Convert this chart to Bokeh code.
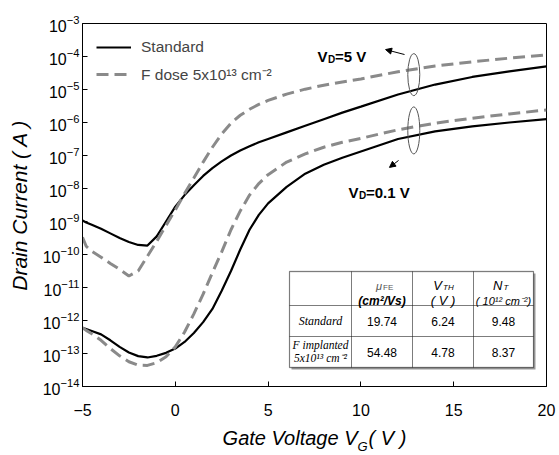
import numpy as np
from bokeh.plotting import figure
from bokeh.models import (Range1d, FixedTicker, LogTickFormatter, Label, BoxAnnotation,
                          Arrow, NormalHead, Legend, LegendItem, Title)
from bokeh.embed import file_html
from bokeh.resources import INLINE

# ---------------- data ----------------
gate_v = [-5, -4.8, -4.5, -4, -3.5, -3, -2.5, -2, -1.5, -1, -0.5, 0, 0.5, 1, 1.5, 2,
          2.5, 3, 3.5, 4, 4.5, 5, 6, 7, 8, 9, 10, 12, 14, 16, 18, 20]

# log10 of drain current (A)
log_std_vd5 = [-8.97, -9.03, -9.1, -9.22, -9.36, -9.5, -9.62, -9.71, -9.73, -9.45, -9.0, -8.55,
               -8.2, -7.9, -7.62, -7.38, -7.18, -7.0, -6.85, -6.72, -6.6, -6.5, -6.3, -6.1,
               -5.9, -5.7, -5.52, -5.15, -4.85, -4.62, -4.45, -4.3]
log_f_vd5 = [-9.48, -9.75, -9.9, -10.08, -10.27, -10.45, -10.65, -10.5, -10.05, -9.6, -9.12, -8.65,
             -8.15, -7.68, -7.2, -6.75, -6.35, -6.02, -5.78, -5.6, -5.45, -5.33, -5.14, -4.99,
             -4.87, -4.77, -4.68, -4.46, -4.29, -4.16, -4.05, -3.95]
log_std_vd01 = [-12.22, -12.26, -12.32, -12.42, -12.6, -12.8, -12.97, -13.08, -13.12, -13.07, -12.98, -12.85,
                -12.65, -12.38, -12.05, -11.65, -11.1, -10.5, -9.85, -9.25, -8.8, -8.45, -7.95, -7.55,
                -7.28, -7.07, -6.88, -6.5, -6.27, -6.12, -6.0, -5.9]
log_f_vd01 = [-12.22, -12.3, -12.4, -12.6, -12.85, -13.07, -13.25, -13.35, -13.36, -13.28, -13.1, -12.8,
              -12.35, -11.8, -11.2, -10.55, -9.92, -9.25, -8.68, -8.2, -7.85, -7.58, -7.2, -6.95,
              -6.75, -6.6, -6.48, -6.22, -6.02, -5.87, -5.74, -5.62]

x_ticks = [-5, 0, 5, 10, 15, 20]
y_tick_exponents = [-3, -4, -5, -6, -7, -8, -9, -10, -11, -12, -13, -14]

series_labels = ["Standard", "F dose 5x10\u00b9\u00b3 cm\u207b\u00b2"]
x_title = "Gate Voltage V\u00a0\u00a0( V )"
x_title_sub = "G"
y_title = "Drain Current ( A )"

# table
table_rows = ["Standard", "F implanted\n5x10\u00b9\u00b3 cm\u207b\u00b2"]
mu_fe = ["19.74", "54.48"]
v_th = ["6.24", "4.78"]
n_t = ["9.48", "8.37"]

# ellipse / arrow annotation anchor points (gate voltage, log10 current)
ellipse_v = [12.85, 12.85]
ellipse_log = [-4.55, -6.24]
arrow_from = [(12.35, -3.94), (12.03, -7.15)]
arrow_to = [(11.33, -3.79), (11.54, -7.36)]

# ---------------- figure ----------------
FONT = "Liberation Sans"
SERIF = "Liberation Serif"

p = figure(width=559, height=455, y_axis_type="log",
           x_range=Range1d(-5, 20), y_range=Range1d(1e-14, 1e-3),
           output_backend="svg", toolbar_location=None, title=None,
           min_border_left=82, min_border_right=13, min_border_top=23, min_border_bottom=69,
           background_fill_color="white", border_fill_color="white")

p.grid.visible = False
p.outline_line_color = "black"
p.outline_line_width = 1

for ax in (p.xaxis[0], p.yaxis[0]):
    ax.axis_line_color = "black"
    ax.major_tick_line_color = "black"
    ax.major_tick_in = 5
    ax.major_tick_out = 0
    ax.minor_tick_line_color = None
    ax.major_label_text_font = FONT
    ax.major_label_text_font_size = "16px"
    ax.major_label_text_color = "black"
    ax.axis_label_text_font = FONT
    ax.axis_label_text_font_style = "italic"
    ax.axis_label_text_color = "black"

p.xaxis[0].ticker = FixedTicker(ticks=x_ticks)
p.xaxis[0].major_label_standoff = 17
p.xaxis[0].axis_label = x_title
p.xaxis[0].axis_label_text_font_size = "20px"
p.xaxis[0].axis_label_standoff = 8

p.yaxis[0].ticker = FixedTicker(ticks=[10.0 ** e for e in y_tick_exponents])
p.yaxis[0].formatter = LogTickFormatter()
p.yaxis[0].major_label_standoff = 3
p.yaxis[0].axis_label = y_title
p.yaxis[0].axis_label_text_font_size = "21px"
p.yaxis[0].axis_label_standoff = 9

# subscript G of the x title
p.add_layout(Title(text=x_title_sub, align="left", offset=275, vertical_align="top",
                   standoff=-26, text_font=FONT, text_font_size="13px",
                   text_font_style="italic", text_color="black"), "below")

v = np.array(gate_v)
GREY = "#8a8a8a"
r_std5 = p.line(v, 10.0 ** np.array(log_std_vd5), line_color="black", line_width=2.2)
r_f5 = p.line(v, 10.0 ** np.array(log_f_vd5), line_color=GREY, line_width=3, line_dash="12 6")
p.line(v, 10.0 ** np.array(log_std_vd01), line_color="black", line_width=2.2)
p.line(v, 10.0 ** np.array(log_f_vd01), line_color=GREY, line_width=3, line_dash="12 6")

# ellipses and arrows
p.ellipse(x=ellipse_v, y=[10.0 ** e for e in ellipse_log], width=[12, 12], height=[42, 47],
          width_units="screen", height_units="screen", fill_color=None,
          line_color="#555555", line_width=1)
for (x0, y0), (x1, y1) in zip(arrow_from, arrow_to):
    p.add_layout(Arrow(end=NormalHead(size=6, fill_color="black", line_color="black"),
                       x_start=x0, y_start=10.0 ** y0, x_end=x1, y_end=10.0 ** y1,
                       line_color="black", line_width=1))

# legend
legend = Legend(items=[LegendItem(label=series_labels[0], renderers=[r_std5]),
                       LegendItem(label=series_labels[1], renderers=[r_f5])],
                location="top_left", margin=0, padding=14, spacing=6,
                glyph_width=35, label_standoff=10,
                label_text_font=FONT, label_text_font_size="15.5px",
                background_fill_alpha=0, border_line_alpha=0)
p.add_layout(legend)


def lab(x, y, text, size, style="normal", align="left", baseline="alphabetic",
        color="black", font=FONT):
    p.add_layout(Label(x=x, y=y, x_units="screen", y_units="screen", text=text,
                       text_font=font, text_font_size=f"{size}px", text_font_style=style,
                       text_align=align, text_baseline=baseline, text_color=color,
                       level="overlay"))


def box(l, r, b, t, fill="white", line="black", lw=1.0, fill_alpha=1.0):
    p.add_layout(BoxAnnotation(left=l, right=r, bottom=b, top=t,
                               left_units="screen", right_units="screen",
                               bottom_units="screen", top_units="screen",
                               fill_color=fill, fill_alpha=fill_alpha,
                               line_color=line, line_width=lw, level="overlay"))


# table boxes (drawn before the texts)
xs = [207, 269, 330, 391, 451]
ys = [115, 81, 50, 19]
box(xs[0] + 2, xs[-1] + 2, ys[-1] - 2, ys[0] - 2, fill="#9a9a9a", line=None)
box(xs[0], xs[-1], ys[-1], ys[0], fill="white", line="black", lw=1.3)
for i in range(4):
    for j in range(3):
        box(xs[i], xs[i + 1], ys[j + 1], ys[j], fill="white", line="black", lw=1, fill_alpha=0)

# V_D annotations
lab(235, 330, "V", 15, style="bold")
lab(245.5, 327, "D", 10, style="bold")
lab(252.5, 330, "=5 V", 15, style="bold")
lab(266, 194, "V", 15, style="bold")
lab(276.5, 191, "D", 10, style="bold")
lab(283.5, 194, "=0.1 V", 15, style="bold")

cx = [(xs[i] + xs[i + 1]) / 2 for i in range(4)]
# header
lab(cx[1], 101, "\u03bc", 11, style="italic", align="right", color="#555555")
lab(cx[1] + 1, 99, "FE", 8, color="#555555")
lab(cx[1], 86, "(cm\u00b2/Vs)", 12, style="bold italic", align="center")
lab(cx[2] - 1, 101, "V", 13, style="italic", align="right")
lab(cx[2], 99, "TH", 8, style="italic")
lab(cx[2], 86, "( V )", 13, style="italic", align="center")
lab(cx[3] - 1, 101, "N", 13, style="italic", align="right")
lab(cx[3], 99, "T", 8, style="italic")
lab(cx[3], 86, "( 10\u00b9\u00b2 cm\u207b\u00b2)", 11, style="italic", align="center")

row_mid = [(ys[1] + ys[2]) / 2, (ys[2] + ys[3]) / 2]
lab(cx[0], row_mid[0], table_rows[0], 12, style="italic", align="center",
    baseline="middle", font=SERIF)
lines2 = table_rows[1].split("\n")
lab(cx[0], row_mid[1] + 7, lines2[0], 11.5, style="italic", align="center",
    baseline="middle", font=SERIF)
lab(cx[0], row_mid[1] - 6, lines2[1], 11.5, style="italic", align="center",
    baseline="middle", font=SERIF)
for r in range(2):
    lab(cx[1], row_mid[r], mu_fe[r], 12, align="center", baseline="middle")
    lab(cx[2], row_mid[r], v_th[r], 12, align="center", baseline="middle")
    lab(cx[3], row_mid[r], n_t[r], 12, align="center", baseline="middle")

open("out.html", "w").write(file_html(p, INLINE))
